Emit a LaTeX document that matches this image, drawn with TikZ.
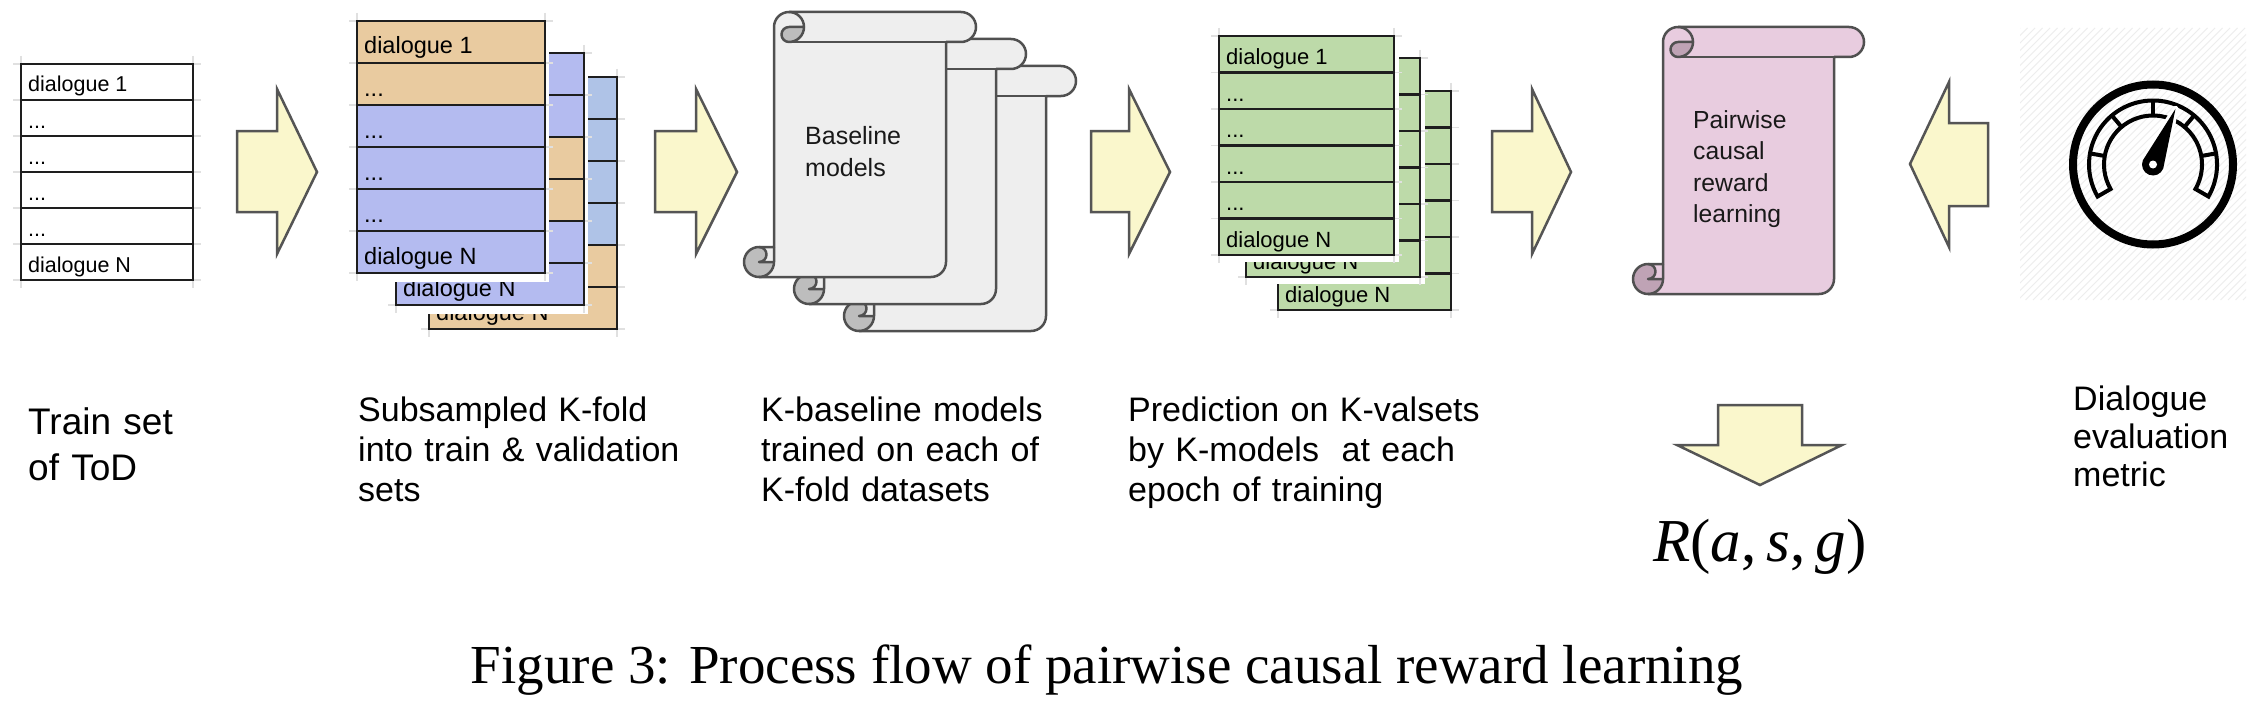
\documentclass[tikz,border=0pt]{standalone}
\usepackage{fontspec}
\setmainfont{Liberation Sans}
\newfontfamily\capfont{Liberation Serif}
\usepackage{xcolor}
\usepackage{tikz}

\definecolor{arrowfill}{HTML}{FAF7CC}
\definecolor{arrowrim}{HTML}{555555}
\definecolor{tabrim}{HTML}{1E1E1E}
\definecolor{foldorange}{HTML}{E9CBA0}
\definecolor{foldblue}{HTML}{B4BBF0}
\definecolor{foldblueb}{HTML}{AFC3E7}
\definecolor{valgreen}{HTML}{BDDAA9}
\definecolor{scrollgrey}{HTML}{EEEEEE}
\definecolor{curlgrey}{HTML}{BDBDBD}
\definecolor{scrollpink}{HTML}{E8CCDF}
\definecolor{curlpink}{HTML}{BFA3B5}
\definecolor{scrollrim}{HTML}{505050}
\definecolor{hatchgrey}{HTML}{EDEDED}

% x, y, width, height, paper colour, curl colour
\newcommand{\scrollshape}[6]{%
  \begin{scope}[shift={(#1,#2)}]
    \fill[#5] (15,#4) arc[start angle=90,delta angle=-90,radius=15] -- (15,#4-15)
      arc[start angle=90,delta angle=180,radius=7.5] -- (30,#4-30) -- (30,15)
      arc[start angle=180,delta angle=90,radius=15] -- (#3-15,0)
      arc[start angle=270,delta angle=180,radius=15] -- (#3-30,30) -- (#3-30,#4-15)
      arc[start angle=0,delta angle=90,radius=15] -- cycle;
    \fill[#6] (60,15) arc[start angle=0,delta angle=90,radius=15]
      arc[start angle=90,delta angle=180,radius=7.5] -- cycle;
    \fill[#6] (30,#4-15) arc[start angle=0,delta angle=270,radius=15]
      arc[start angle=270,delta angle=180,radius=7.5] -- cycle;
    \draw[scrollline] (30,#4-30) -- (30,15) arc[start angle=180,delta angle=90,radius=15]
      -- (#3-15,0) arc[start angle=270,delta angle=180,radius=15] -- (#3-30,30)
      -- (#3-30,#4-15) arc[start angle=0,delta angle=90,radius=15] -- (15,#4)
      arc[start angle=90,delta angle=180,radius=15] -- cycle;
    \draw[scrollline] (45,0) arc[start angle=270,delta angle=180,radius=15]
      arc[start angle=90,delta angle=180,radius=7.5] -- (60,15);
    \draw[scrollline] (#3-30,30) -- (45,30);
    \draw[scrollline] (15,#4-30) arc[start angle=270,delta angle=180,radius=7.5] -- (30,#4-15);
    \draw[scrollline] (15,#4) arc[start angle=90,delta angle=-90,radius=15] -- (30,#4-30);
  \end{scope}}

% x, y, width, row height, row colours
\newcommand{\dlgtable}[5]{%
  \foreach \i in {0,...,6}
    \draw[gridtick] (#1-8,#2+\i*#4) -- (#1+#3+8,#2+\i*#4);
  \draw[gridtick] (#1,#2-8) -- (#1,#2+6*#4+8);
  \draw[gridtick] (#1+#3,#2-8) -- (#1+#3,#2+6*#4+8);
  \foreach \rowcol [count=\i from 0] in {#5}
    \filldraw[fill=\rowcol,draw=tabrim,line width=2.5pt] (#1,#2+\i*#4) rectangle ++(#3,#4);}

\begin{document}
\begin{tikzpicture}[x=1pt,y=-1pt,
  scrollline/.style={draw=scrollrim,line width=2.5pt,line join=round},
  blockarrow/.style={fill=arrowfill,draw=arrowrim,line width=2.5pt,line join=miter},
  gridtick/.style={draw=black!12,line width=1.5pt},
  cell/.style={anchor=base west,inner sep=0pt,font=\fontsize{22}{24}\selectfont},
  scrolltext/.style={anchor=base west,inner sep=0pt,align=left,text width=200pt,
    text=black!90,font=\fontsize{25}{32}\selectfont},
  steptext/.style={anchor=base west,inner sep=0pt,align=left,text width=420pt,
    font=\fontsize{34}{40}\selectfont}]

  \useasboundingbox (0,0) rectangle (2252,709);
  \fill[white] (0,0) rectangle (2252,709);

  \dlgtable{21}{64}{172}{36}{white,white,white,white,white,white}
  \node[cell,font=\fontsize{21.5}{24}\selectfont] (set1) at (28,92) {dialogue 1};
  \foreach \i in {1,...,4}
    \node[cell,font=\fontsize{21.5}{24}\selectfont] (setdots\i) at (28,92+\i*36) {...};
  \node[cell,font=\fontsize{21.5}{24}\selectfont] (setN) at (28,272) {dialogue N};

  \filldraw[blockarrow] (237,131) -- (277,131) -- (277,89) -- (317,172) -- (277,254) -- (277,212) -- (237,212) -- cycle;

  \dlgtable{429}{77}{188}{42}{foldblueb,foldblueb,foldblueb,foldblueb,foldorange,foldorange}
  \node[cell,font=\fontsize{23.5}{26}\selectfont] (foldcN) at (436,320) {dialogue N};
  \fill[white] (393,50) rectangle (588,314);
  \dlgtable{396}{53}{188}{42}{foldblue,foldblue,foldorange,foldorange,foldblue,foldblue}
  \node[cell,font=\fontsize{23.5}{26}\selectfont] (foldbN) at (403,296) {dialogue N};
  \fill[white] (354,18) rectangle (549,282);
  \dlgtable{357}{21}{188}{42}{foldorange,foldorange,foldblue,foldblue,foldblue,foldblue}
  \node[cell,font=\fontsize{23.5}{26}\selectfont] (folda1) at (364,54) {dialogue 1};
  \foreach \i in {1,...,4}
    \node[cell,font=\fontsize{23.5}{26}\selectfont] (foldadots\i) at (364,54+\i*42) {...};
  \node[cell,font=\fontsize{23.5}{26}\selectfont] (foldaN) at (364,264) {dialogue N};

  \filldraw[blockarrow] (655,131) -- (696,131) -- (696,89) -- (737,172) -- (696,254) -- (696,212) -- (655,212) -- cycle;

  \scrollshape{844}{66}{232}{265}{scrollgrey}{curlgrey}
  \scrollshape{794}{39}{232}{265}{scrollgrey}{curlgrey}
  \scrollshape{744}{12}{232}{265}{scrollgrey}{curlgrey}
  \node[scrolltext] (basetext) at (805,144) {Baseline\\models};

  \filldraw[blockarrow] (1091,131) -- (1129,131) -- (1129,89) -- (1170,172) -- (1129,254) -- (1129,212) -- (1091,212) -- cycle;

  \dlgtable{1278}{91}{173}{36.5}{valgreen,valgreen,valgreen,valgreen,valgreen,valgreen}
  \node[cell] (valcN) at (1285,302) {dialogue N};
  \fill[white] (1243,55) rectangle (1425,284);
  \dlgtable{1246}{58}{174}{36.5}{valgreen,valgreen,valgreen,valgreen,valgreen,valgreen}
  \node[cell] (valbN) at (1253,269) {dialogue N};
  \fill[white] (1216,33) rectangle (1399,262);
  \dlgtable{1219}{36}{175}{36.5}{valgreen,valgreen,valgreen,valgreen,valgreen,valgreen}
  \node[cell] (vala1) at (1226,64.5) {dialogue 1};
  \foreach \i in {1,...,4}
    \node[cell] (valadots\i) at (1226,64.5+\i*36.5) {...};
  \node[cell] (valaN) at (1226,247) {dialogue N};

  \filldraw[blockarrow] (1492,131) -- (1532,131) -- (1532,89) -- (1571,172) -- (1532,254) -- (1532,212) -- (1492,212) -- cycle;

  \scrollshape{1633}{27}{231}{267}{scrollpink}{curlpink}
  \node[scrolltext,font=\fontsize{24.7}{31.5}\selectfont] (pairtext) at (1693,128) {Pairwise\\causal\\reward\\learning};

  \filldraw[blockarrow] (1988,123) -- (1949,123) -- (1949,82) -- (1910,164) -- (1949,247) -- (1949,206) -- (1988,206) -- cycle;

  \begin{scope}
    \clip (2020,28) rectangle (2246,300);
    \foreach \k in {0,...,66}
      \draw[hatchgrey,line width=1pt] (1748+\k*7.5,300) -- ++(272,-272);
  \end{scope}

  \begin{scope}[shift={(2153,164.5)}]
    \draw[line width=8pt] (0,0) circle[radius=80];
    \draw[line width=4pt,line join=miter] (30:64) arc[start angle=30,end angle=-210,radius=64]
      -- (-210:49) arc[start angle=-210,end angle=30,radius=49] -- cycle;
    \foreach \a in {-10,-50,-90,-130,-170}
      \draw[line width=4pt] (\a:49) -- (\a:64);
    \draw[white,line width=6pt,line join=round] (-68:60) -- (22:11) arc[start angle=22,end angle=202,radius=11] -- cycle;
    \fill (-68:60) -- (22:11) arc[start angle=22,end angle=202,radius=11] -- cycle;
    \fill[white] (0,0) circle[radius=4];
  \end{scope}

  \filldraw[blockarrow] (1718,405) -- (1802,405) -- (1802,445) -- (1842,445) -- (1760,485) -- (1677,445) -- (1718,445) -- cycle;

  \node[steptext,font=\fontsize{37}{46}\selectfont] (trainlabel) at (28,434) {Train set\\of ToD};
  \node[steptext] (foldlabel) at (358,421) {Subsampled K-fold\\into train \& validation\\sets};
  \node[steptext] (baselabel) at (761,421) {K-baseline models\\trained on each of\\K-fold datasets};
  \node[steptext] (predlabel) at (1128,421) {Prediction on K-valsets\\by K-models\ \ at each\\epoch of training};
  \node[steptext,font=\fontsize{34}{38}\selectfont] (metriclabel) at (2073,410) {Dialogue\\evaluation\\metric};
  \node[anchor=base west,inner sep=0pt,font=\capfont\fontsize{61}{61}\selectfont] (reward) at (1653,561) {\textit{R}(\textit{a},\,\textit{s},\,\textit{g})};

  \node[anchor=base,inner sep=0pt,font=\capfont\fontsize{55}{60}\selectfont] (figcaption) at (1107,683) {Figure 3: Process flow of pairwise causal reward learning};
\end{tikzpicture}
\end{document}
